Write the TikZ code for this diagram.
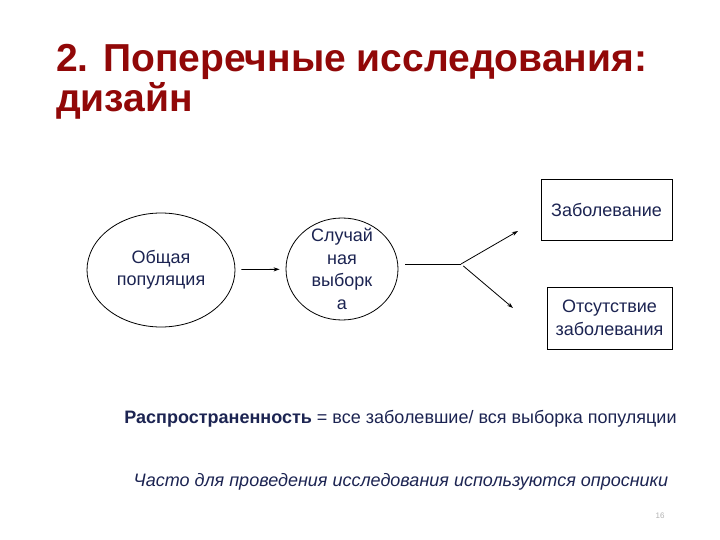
\documentclass[tikz,border=0pt]{standalone}
\usepackage{fontspec}
\setmainfont{Liberation Sans}
\usetikzlibrary{shapes.geometric,arrows.meta}
\definecolor{titlered}{RGB}{145,8,8}
\definecolor{navy}{RGB}{28,36,82}
\tikzset{
  lbl/.style={text=navy,font=\fontsize{18}{22.5}\selectfont,align=center,inner sep=0pt},
  oval/.style={draw=black,ellipse,line width=0.8pt,inner sep=0pt},
  rbox/.style={draw=black,rectangle,line width=0.8pt,inner sep=0pt},
  arr/.style={draw=black,line width=0.8pt,-{Stealth[length=6pt,width=4pt]}},
  ln/.style={draw=black,line width=0.8pt}
}
\begin{document}
\begin{tikzpicture}[x=1pt,y=-1pt]
\useasboundingbox[fill=white] (0,0) rectangle (720,540);
\node[anchor=base west,text=titlered,font=\fontsize{39}{40}\selectfont\bfseries,align=left,inner sep=0pt] (title) at (56,112) {2. Поперечные исследования:\\дизайн};
\node[oval,minimum width=148,minimum height=114] (e1) at (161,270) {};
\node[lbl] (e1t) at (161,270) {Общая\\популяция};
\node[oval,minimum width=112,minimum height=102] (e2) at (342,269) {};
\node[lbl] (e2t) at (342,269) {Случай\\ная\\выборк\\а};
\node[rbox,minimum width=131,minimum height=61] (b1) at (606.5,209.5) {};
\node[lbl] (b1t) at (606.5,210) {Заболевание};
\node[rbox,minimum width=125,minimum height=62] (b2) at (609.5,318) {};
\node[lbl] (b2t) at (609.5,318) {Отсутствие\\заболевания};
\coordinate (s) at (461,264);
\coordinate (t1) at (518,231);
\coordinate (t2) at (513,308);
\draw[arr,shorten <=6pt,shorten >=6pt] (e1) -- (e2);
\draw[ln,shorten <=7pt] (e2.east |- s) -- (s);
\draw[arr] (s) -- (t1);
\draw[arr,shorten <=3pt] (s) -- (t2);
\node[text=navy,font=\fontsize{18}{22}\selectfont,anchor=base,inner sep=0pt] (prev) at (400.5,423) {\textbf{Распространенность} = все заболевшие/ вся выборка популяции};
\node[text=navy,font=\fontsize{18}{22}\selectfont\itshape,anchor=base,inner sep=0pt] (note) at (401,486) {Часто для проведения исследования используются опросники};
\node[text=gray!60,font=\fontsize{8}{10}\selectfont,anchor=base,inner sep=0pt] (pg) at (660,518) {16};
\end{tikzpicture}
\end{document}
